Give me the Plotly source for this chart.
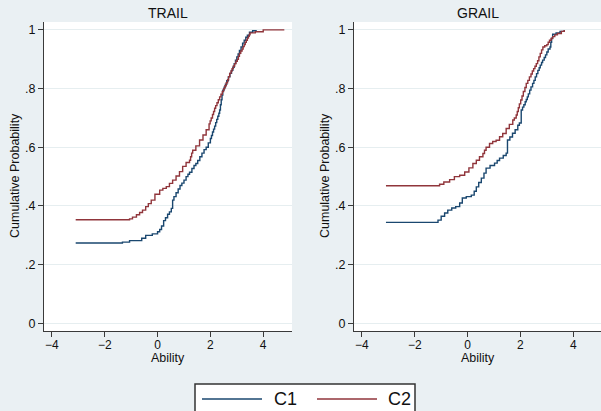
import plotly.graph_objects as go

# ---- data ----
panel_titles = ["TRAIL", "GRAIL"]
series_names = ["C1", "C2"]
x_title = "Ability"
y_title = "Cumulative Probability"

trail_c1_x = [-3.10, -1.33, -1.06, -0.60, -0.45, -0.20, 0.00, 0.08, 0.15, 0.23, 0.30, 0.38, 0.45, 0.52, 0.57,
              0.62, 0.70, 0.78, 0.85, 0.92, 1.00, 1.08, 1.15, 1.21, 1.30, 1.38, 1.45, 1.52, 1.60, 1.68, 1.76,
              1.84, 1.92, 2.00, 2.04, 2.08, 2.12, 2.16, 2.20, 2.24, 2.28, 2.32, 2.35, 2.38, 2.41, 2.44, 2.47,
              2.52, 2.57, 2.62, 2.68, 2.74, 2.80, 2.85, 2.90, 2.95, 3.00, 3.05, 3.10, 3.16, 3.22, 3.28, 3.34,
              3.40, 3.48, 3.60, 3.73]
trail_c1_y = [0.274, 0.277, 0.282, 0.290, 0.300, 0.305, 0.312, 0.320, 0.332, 0.350, 0.360, 0.372, 0.380, 0.392, 0.420,
              0.432, 0.445, 0.458, 0.470, 0.478, 0.488, 0.500, 0.508, 0.515, 0.528, 0.538, 0.545, 0.555, 0.568, 0.580, 0.592,
              0.600, 0.615, 0.630, 0.640, 0.652, 0.662, 0.672, 0.684, 0.695, 0.706, 0.716, 0.727, 0.745, 0.762, 0.778, 0.795,
              0.805, 0.815, 0.827, 0.840, 0.852, 0.862, 0.873, 0.885, 0.897, 0.908, 0.918, 0.930, 0.942, 0.955, 0.965, 0.975,
              0.982, 0.992, 0.997, 1.000]

trail_c2_x = [-3.10, -1.06, -0.95, -0.80, -0.68, -0.57, -0.45, -0.35, -0.24, -0.10, 0.08, 0.20, 0.33, 0.45, 0.57,
              0.70, 0.83, 0.95, 1.08, 1.21, 1.25, 1.29, 1.33, 1.45, 1.59, 1.72, 1.84, 1.95, 1.99, 2.03, 2.08,
              2.12, 2.16, 2.20, 2.25, 2.30, 2.35, 2.40, 2.45, 2.50, 2.55, 2.60, 2.65, 2.69, 2.73, 2.78, 2.82,
              2.87, 2.92, 2.97, 3.02, 3.06, 3.10, 3.15, 3.20, 3.24, 3.28, 3.32, 3.36, 3.40, 3.44, 3.47, 3.50,
              3.70, 4.00, 4.80]
trail_c2_y = [0.353, 0.356, 0.362, 0.370, 0.378, 0.386, 0.398, 0.408, 0.420, 0.440, 0.454, 0.460, 0.466, 0.477, 0.488,
              0.502, 0.517, 0.535, 0.548, 0.556, 0.568, 0.580, 0.590, 0.605, 0.625, 0.642, 0.660, 0.680, 0.690, 0.700, 0.712,
              0.722, 0.733, 0.742, 0.752, 0.762, 0.772, 0.781, 0.790, 0.800, 0.810, 0.820, 0.830, 0.841, 0.852, 0.860, 0.868,
              0.877, 0.885, 0.893, 0.900, 0.910, 0.920, 0.928, 0.935, 0.943, 0.950, 0.958, 0.965, 0.972, 0.978, 0.984, 0.990,
              0.994, 1.000, 1.000]

grail_c1_x = [-3.09, -1.12, -1.00, -0.87, -0.75, -0.60, -0.45, -0.30, -0.20, -0.05, 0.14, 0.25, 0.33, 0.42, 0.52,
              0.62, 0.70, 0.85, 1.02, 1.12, 1.21, 1.35, 1.46, 1.51, 1.60, 1.70, 1.80, 1.90, 1.96, 2.03, 2.08,
              2.13, 2.18, 2.22, 2.26, 2.30, 2.35, 2.40, 2.46, 2.51, 2.56, 2.61, 2.66, 2.71, 2.75, 2.80, 2.84,
              2.90, 2.95, 3.00, 3.05, 3.12, 3.15, 3.18, 3.22, 3.35, 3.50, 3.66]
grail_c1_y = [0.344, 0.352, 0.365, 0.376, 0.386, 0.393, 0.398, 0.410, 0.427, 0.432, 0.437, 0.450, 0.465, 0.480, 0.495,
              0.512, 0.529, 0.538, 0.546, 0.555, 0.563, 0.572, 0.580, 0.625, 0.635, 0.648, 0.660, 0.675, 0.683, 0.727, 0.737,
              0.745, 0.755, 0.763, 0.772, 0.782, 0.795, 0.806, 0.818, 0.828, 0.840, 0.851, 0.862, 0.871, 0.880, 0.889, 0.897,
              0.906, 0.915, 0.925, 0.935, 0.942, 0.958, 0.972, 0.985, 0.990, 0.995, 1.000]

grail_c2_x = [-3.09, -1.06, -0.90, -0.68, -0.50, -0.30, -0.11, 0.05, 0.20, 0.33, 0.45, 0.58, 0.64, 0.70, 0.83,
              0.95, 1.08, 1.21, 1.33, 1.46, 1.58, 1.71, 1.77, 1.84, 1.88, 1.92, 1.96, 2.01, 2.06, 2.11, 2.17,
              2.22, 2.28, 2.34, 2.40, 2.45, 2.50, 2.55, 2.60, 2.65, 2.70, 2.75, 2.80, 2.85, 2.92, 3.00, 3.05,
              3.10, 3.16, 3.22, 3.30, 3.40, 3.55, 3.66]
grail_c2_y = [0.469, 0.474, 0.482, 0.490, 0.500, 0.505, 0.516, 0.530, 0.545, 0.556, 0.568, 0.579, 0.590, 0.600, 0.613,
              0.620, 0.624, 0.636, 0.647, 0.664, 0.678, 0.693, 0.700, 0.710, 0.722, 0.735, 0.748, 0.761, 0.775, 0.790, 0.804,
              0.818, 0.828, 0.840, 0.850, 0.860, 0.868, 0.876, 0.885, 0.895, 0.908, 0.920, 0.932, 0.942, 0.946, 0.950, 0.958,
              0.965, 0.971, 0.977, 0.983, 0.988, 0.995, 1.000]

x_tickvals = [-4, -2, 0, 2, 4]
y_tickvals = [0, 0.2, 0.4, 0.6, 0.8, 1]
y_ticktext = ["0", ".2", ".4", ".6", ".8", "1"]

# ---- styling ----
W, H = 601, 411
BG = "#eaf0f3"
GRID = "#e6eef0"
AX = "#3a3a3a"
C1_COLOR = "#1a476f"
C2_COLOR = "#90353b"
FONT = "Liberation Sans, Arial, Helvetica, sans-serif"
NARROW = "Liberation Sans Narrow, Liberation Sans, Arial, sans-serif"

def px_x(p):
    return p / W

def px_y(p):
    return 1 - p / H

fig = go.Figure()

panels = [
    (trail_c1_x, trail_c1_y, trail_c2_x, trail_c2_y, "x", "y"),
    (grail_c1_x, grail_c1_y, grail_c2_x, grail_c2_y, "x2", "y2"),
]
for c1x, c1y, c2x, c2y, xa, ya in panels:
    fig.add_trace(go.Scatter(x=c1x, y=c1y, mode="lines", line=dict(color=C1_COLOR, width=1.4, shape="hv"),
                             name=series_names[0], xaxis=xa, yaxis=ya, showlegend=False))
    fig.add_trace(go.Scatter(x=c2x, y=c2y, mode="lines", line=dict(color=C2_COLOR, width=1.4, shape="hv"),
                             name=series_names[1], xaxis=xa, yaxis=ya, showlegend=False))

ydom = [px_y(331), px_y(22)]
common_x = dict(range=[-4.3, 5.09], tickvals=x_tickvals, ticks="outside", ticklen=5, tickcolor=AX,
                showline=True, linecolor=AX, linewidth=1.2, showgrid=False, zeroline=False,
                ticklabelstandoff=-3,
                tickfont=dict(size=12, color="#111", family=FONT))
common_y = dict(range=[-0.026, 1.027], tickvals=y_tickvals, ticktext=y_ticktext, ticks="outside", ticklen=5,
                tickcolor=AX, showline=True, linecolor=AX, linewidth=1.2, showgrid=True, gridcolor=GRID,
                gridwidth=1, zeroline=False, domain=ydom,
                tickfont=dict(size=12.5, color="#111", family=FONT))

fig.update_layout(
    width=W, height=H,
    margin=dict(l=0, r=0, t=0, b=0),
    paper_bgcolor=BG, plot_bgcolor="white",
    font=dict(family=FONT, color="#111"),
    xaxis=dict(domain=[px_x(44), px_x(292)], anchor="y", **common_x),
    yaxis=dict(anchor="x", **common_y),
    xaxis2=dict(domain=[px_x(354), 1.0], anchor="y2", **{**common_x, "range": [-4.3, 5.05]}),
    yaxis2=dict(anchor="x2", **common_y),
    showlegend=False,
)

# panel titles and axis titles
for t, cx, yx in zip(panel_titles, [168, 478], [15, 325]):
    fig.add_annotation(text=t, x=px_x(cx), y=px_y(13), xref="paper", yref="paper", showarrow=False,
                       font=dict(size=14, color="#111", family=FONT), xanchor="center", yanchor="middle")
    fig.add_annotation(text=x_title, x=px_x(cx), y=px_y(358), xref="paper", yref="paper", showarrow=False,
                       font=dict(size=12.5, color="#111", family=FONT), xanchor="center", yanchor="middle")
    fig.add_annotation(text=y_title, x=px_x(yx), y=px_y(176), xref="paper", yref="paper", showarrow=False,
                       textangle=-90, font=dict(size=12.5, color="#111", family=FONT),
                       xanchor="center", yanchor="middle")

# legend box (manual, Stata style)
fig.add_shape(type="rect", xref="paper", yref="paper", x0=px_x(195), x1=px_x(415), y0=-0.02, y1=px_y(384),
              line=dict(color="#333", width=1.5), fillcolor="white", layer="above")
legend_items = [(series_names[0], C1_COLOR, 202, 262, 272), (series_names[1], C2_COLOR, 317, 377, 386)]
for name, col, lx0, lx1, tx in legend_items:
    fig.add_shape(type="line", xref="paper", yref="paper", x0=px_x(lx0), x1=px_x(lx1), y0=px_y(399), y1=px_y(399),
                  line=dict(color=col, width=1.5))
    fig.add_annotation(text=name, x=px_x(tx), y=px_y(399), xref="paper", yref="paper", showarrow=False,
                       xanchor="left", yanchor="middle", font=dict(size=18, color="#111", family=NARROW))

fig.write_html("out.html")
